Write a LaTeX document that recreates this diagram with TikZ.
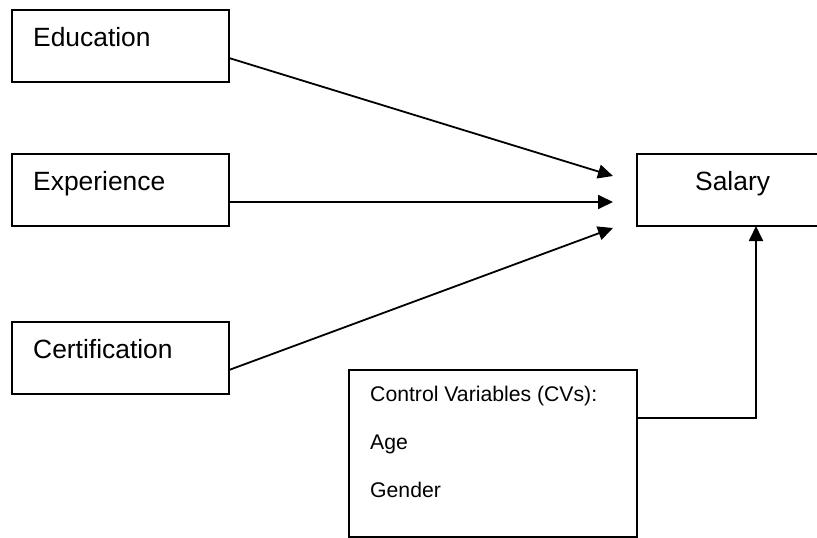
\documentclass[tikz,border=0pt]{standalone}
\usepackage{fontspec}
\setmainfont{Liberation Sans}
\usetikzlibrary{arrows.meta}
\tikzset{
  boxnode/.style={draw=black, line width=2pt, inner sep=0pt, outer sep=0pt, anchor=north west},
  bigtext/.style={anchor=base west, inner sep=0pt, font=\fontsize{26.4}{30}\selectfont},
  smalltext/.style={anchor=base west, inner sep=0pt, font=\fontsize{21.2}{25}\selectfont},
  arr/.style={line width=1.8pt, -{Triangle[length=15pt,width=14pt]}}
}
\begin{document}
\begin{tikzpicture}[x=1pt,y=-1pt]
\clip (0,0) rectangle (817,538);
\fill[white] (0,0) rectangle (817,538);
% boxes
\node[boxnode, minimum width=217pt, minimum height=72pt] (edu) at (12,10) {};
\node[boxnode, minimum width=217pt, minimum height=72pt] (exp) at (12,154) {};
\node[boxnode, minimum width=217pt, minimum height=72pt] (cert) at (12,322) {};
\node[boxnode, minimum width=191pt, minimum height=72pt] (sal) at (637,154) {};
\node[boxnode, minimum width=288pt, minimum height=167pt] (ctrl) at (349,370) {};
% texts
\node[bigtext] (tedu) at (33,46) {Education};
\node[bigtext] (texp) at (33,190) {Experience};
\node[bigtext] (tcert) at (33,358) {Certification};
\node[bigtext] (tsal) at (695,190) {Salary};
\node[smalltext] (tcv) at (370,401) {Control Variables (CVs):};
\node[smalltext] (tage) at (370,449) {Age};
\node[smalltext] (tgen) at (370,497) {Gender};
% arrow targets
\coordinate (t1) at (613,176);
\coordinate (t2) at (613,202);
\coordinate (t3) at (613,228);
\coordinate (cvup) at (756,226);
% connectors
\draw[arr] ([yshift=-12pt]edu.east) -- (t1);
\draw[arr] ([yshift=-12pt]exp.east) -- (t2);
\draw[arr] ([yshift=-12pt]cert.east) -- (t3);
\draw[arr] ([yshift=35.5pt]ctrl.east) -| (cvup);
\end{tikzpicture}
\end{document}
